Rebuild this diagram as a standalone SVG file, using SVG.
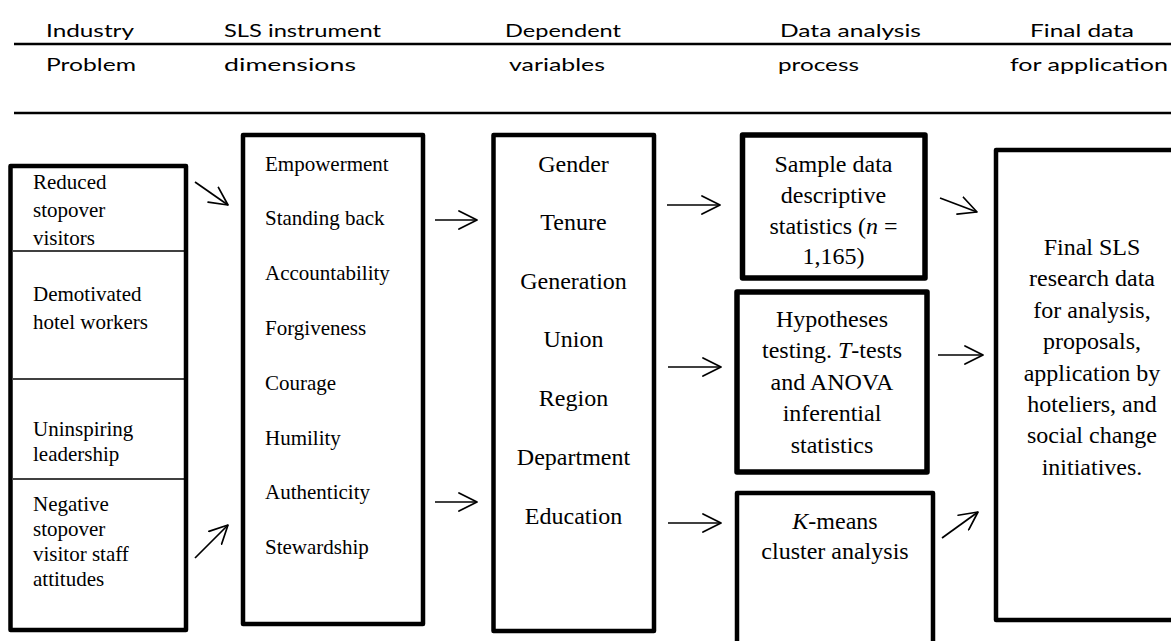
<svg xmlns="http://www.w3.org/2000/svg" width="1171" height="641" viewBox="0 0 1171 641">
  <defs>
    <marker id="open-arrow" viewBox="0 0 20 20" markerWidth="20" markerHeight="20" refX="19" refY="10" orient="auto" markerUnits="userSpaceOnUse">
      <path d="M1,1 L19,10 L1,19" fill="none" stroke="#000" stroke-width="1.7" stroke-linecap="round" stroke-linejoin="round"/>
    </marker>
    <style>
      .head { font-family: "Lato", "Open Sans", sans-serif; font-size: 16.5px; fill: #000; }
      .rule { stroke: #000; stroke-width: 2.5; }
      .box { fill: #fff; stroke: #000; stroke-width: 4.5; stroke-linejoin: round; }
      .thick { stroke-width: 5.5; }
      .divider { stroke: #000; stroke-width: 1.6; }
      .sm { font-family: "Liberation Serif", "Times New Roman", serif; font-size: 21px; fill: #000; }
      .lg { font-family: "Liberation Serif", "Times New Roman", serif; font-size: 24px; fill: #000; text-anchor: middle; }
      .it { font-style: italic; }
      .conn line { stroke: #000; stroke-width: 1.7; marker-end: url(#open-arrow); }
    </style>
  </defs>

  <rect width="1171" height="641" fill="#fff"/>

  <!-- column headings (wide-set, stretched to their column widths) -->
  <g id="header">
    <text class="head" x="46" y="37" textLength="88" lengthAdjust="spacingAndGlyphs">Industry</text>
    <text class="head" x="224" y="37" textLength="157" lengthAdjust="spacingAndGlyphs">SLS instrument</text>
    <text class="head" x="505" y="37" textLength="116" lengthAdjust="spacingAndGlyphs">Dependent</text>
    <text class="head" x="780" y="37" textLength="141" lengthAdjust="spacingAndGlyphs">Data analysis</text>
    <text class="head" x="1030" y="37" textLength="104" lengthAdjust="spacingAndGlyphs">Final data</text>
    <line class="rule" x1="14" y1="44" x2="1171" y2="44"/>
    <text class="head" x="46" y="71" textLength="90" lengthAdjust="spacingAndGlyphs">Problem</text>
    <text class="head" x="224" y="71" textLength="132" lengthAdjust="spacingAndGlyphs">dimensions</text>
    <text class="head" x="509" y="71" textLength="96" lengthAdjust="spacingAndGlyphs">variables</text>
    <text class="head" x="778" y="71" textLength="81" lengthAdjust="spacingAndGlyphs">process</text>
    <text class="head" x="1010" y="71" textLength="158" lengthAdjust="spacingAndGlyphs">for application</text>
    <line class="rule" x1="14" y1="113" x2="1171" y2="113"/>
  </g>

  <!-- industry problems -->
  <g id="problems">
    <rect class="box" x="10.5" y="166" width="175.5" height="464"/>
    <line class="divider" x1="13" y1="251" x2="184" y2="251"/>
    <line class="divider" x1="13" y1="379" x2="184" y2="379"/>
    <line class="divider" x1="13" y1="479" x2="184" y2="479"/>
    <text class="sm" x="33" y="189">Reduced</text>
    <text class="sm" x="33" y="217">stopover</text>
    <text class="sm" x="33" y="245">visitors</text>
    <text class="sm" x="33" y="301">Demotivated</text>
    <text class="sm" x="33" y="329">hotel workers</text>
    <text class="sm" x="33" y="436">Uninspiring</text>
    <text class="sm" x="33" y="461">leadership</text>
    <text class="sm" x="33" y="511">Negative</text>
    <text class="sm" x="33" y="536">stopover</text>
    <text class="sm" x="33" y="561">visitor staff</text>
    <text class="sm" x="33" y="586">attitudes</text>
  </g>

  <!-- SLS instrument dimensions -->
  <g id="dimensions">
    <rect class="box" x="243" y="135" width="180" height="489"/>
    <text class="sm" x="265" y="171">Empowerment</text>
    <text class="sm" x="265" y="225">Standing back</text>
    <text class="sm" x="265" y="280">Accountability</text>
    <text class="sm" x="265" y="335">Forgiveness</text>
    <text class="sm" x="265" y="390">Courage</text>
    <text class="sm" x="265" y="445">Humility</text>
    <text class="sm" x="265" y="499">Authenticity</text>
    <text class="sm" x="265" y="554">Stewardship</text>
  </g>

  <!-- dependent variables -->
  <g id="variables">
    <rect class="box" x="493.5" y="135" width="160.5" height="496"/>
    <text class="lg" x="573.5" y="172">Gender</text>
    <text class="lg" x="573.5" y="230">Tenure</text>
    <text class="lg" x="573.5" y="289">Generation</text>
    <text class="lg" x="573.5" y="347">Union</text>
    <text class="lg" x="573.5" y="406">Region</text>
    <text class="lg" x="573.5" y="465">Department</text>
    <text class="lg" x="573.5" y="524">Education</text>
  </g>

  <!-- analysis steps -->
  <g id="descriptive">
    <rect class="box thick" x="742.5" y="135" width="182.5" height="143"/>
    <text class="lg" x="833.5" y="172">Sample data</text>
    <text class="lg" x="833.5" y="203">descriptive</text>
    <text class="lg" x="833.5" y="234">statistics (<tspan class="it">n</tspan> =</text>
    <text class="lg" x="833.5" y="264">1,165)</text>
  </g>

  <g id="hypotheses">
    <rect class="box thick" x="737" y="292" width="190" height="180"/>
    <text class="lg" x="832" y="327">Hypotheses</text>
    <text class="lg" x="832" y="358">testing. <tspan class="it">T</tspan>-tests</text>
    <text class="lg" x="832" y="390">and ANOVA</text>
    <text class="lg" x="832" y="421">inferential</text>
    <text class="lg" x="832" y="453">statistics</text>
  </g>

  <g id="clusters">
    <rect class="box" x="737" y="493" width="196" height="170"/>
    <text class="lg" x="835" y="529"><tspan class="it">K</tspan>-means</text>
    <text class="lg" x="835" y="559">cluster analysis</text>
  </g>

  <!-- final data -->
  <g id="final">
    <rect class="box" x="996" y="150" width="200" height="470"/>
    <text class="lg" x="1092" y="255">Final SLS</text>
    <text class="lg" x="1092" y="286">research data</text>
    <text class="lg" x="1092" y="318">for analysis,</text>
    <text class="lg" x="1092" y="349">proposals,</text>
    <text class="lg" x="1092" y="381">application by</text>
    <text class="lg" x="1092" y="412">hoteliers, and</text>
    <text class="lg" x="1092" y="443">social change</text>
    <text class="lg" x="1092" y="475">initiatives.</text>
  </g>

  <!-- connectors -->
  <g id="connectors" class="conn">
    <line x1="195" y1="182" x2="228" y2="205"/>
    <line x1="195" y1="558" x2="228" y2="525"/>
    <line x1="435" y1="220" x2="477" y2="220"/>
    <line x1="435" y1="502" x2="477" y2="502"/>
    <line x1="667" y1="205" x2="720" y2="205"/>
    <line x1="668" y1="367" x2="721" y2="367"/>
    <line x1="668" y1="523" x2="721" y2="523"/>
    <line x1="940" y1="198" x2="977" y2="212"/>
    <line x1="938" y1="355" x2="983" y2="355"/>
    <line x1="942" y1="538" x2="978" y2="512"/>
  </g>
</svg>
